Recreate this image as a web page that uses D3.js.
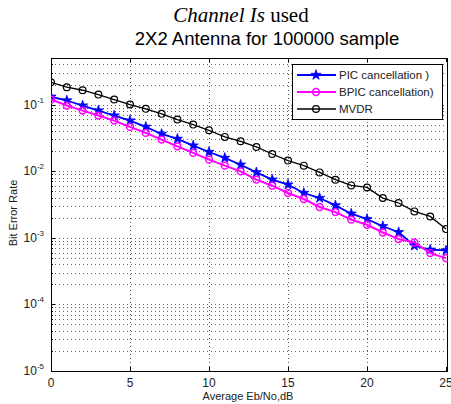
<!DOCTYPE html>
<html>
<head>
<meta charset="utf-8">
<script src="https://cdn.jsdelivr.net/npm/d3@7"></script>
<style>
  body { margin: 0; background: #fff; }
  text { font-family: Arial, "Liberation Sans", sans-serif; }
</style>
</head>
<body>
<div id="chart"></div>
<script>
// data
var snr = d3.range(0, 26);
var pic = [0.131, 0.115, 0.0966, 0.0812, 0.0684, 0.0575, 0.0462, 0.0362, 0.0305, 0.0242,
           0.0194, 0.0158, 0.0125, 0.0096, 0.00745, 0.00627, 0.0047, 0.00395, 0.00306, 0.0023,
           0.00191, 0.00149, 0.00121, 0.000759, 0.000661, 0.000645];
var bpic = [0.119, 0.0966, 0.0812, 0.0684, 0.0575, 0.0462, 0.0375, 0.0298, 0.0236, 0.0188,
            0.0149, 0.0121, 0.00993, 0.00745, 0.00605, 0.0047, 0.00382, 0.0029, 0.00243, 0.00187,
            0.00157, 0.0012, 0.000955, 0.000849, 0.000589, 0.000495];
var mvdr = [0.216, 0.182, 0.164, 0.141, 0.119, 0.100, 0.0862, 0.0725, 0.0595, 0.050,
            0.0411, 0.0327, 0.0281, 0.0231, 0.0181, 0.0144, 0.0121, 0.00959, 0.00745, 0.00611,
            0.0057, 0.00395, 0.00333, 0.00249, 0.00209, 0.00135];
var seriesNames = ["PIC cancellation )", "BPIC cancellation)", "MVDR"];
var xTicks = [0, 5, 10, 15, 20, 25];
var yExps = [-5, -4, -3, -2, -1];

var W = 451, H = 404;
var margin = {top: 58, right: 3, bottom: 33, left: 51};
var width = W - margin.left - margin.right,
    height = H - margin.top - margin.bottom;

var svg = d3.select("#chart").append("svg")
    .attr("width", W)
    .attr("height", H);

// titles
var t1 = svg.append("text")
    .attr("x", 241).attr("y", 22)
    .attr("text-anchor", "middle")
    .style("font-family", "'Liberation Serif', 'Times New Roman', serif")
    .style("font-size", "21px");
t1.append("tspan").style("font-style", "italic").text("Channel Is");
t1.append("tspan").text(" used");

svg.append("text")
    .attr("x", 267).attr("y", 45)
    .attr("text-anchor", "middle")
    .style("font-size", "18.5px")
    .text("2X2 Antenna for 100000 sample");

var g = svg.append("g")
    .attr("transform", "translate(" + margin.left + "," + margin.top + ")");

var x = d3.scaleLinear().domain([0, 25]).range([0, width - 2]);
var y = d3.scaleLog().domain([1e-5, 0.5]).range([height, 0]);

// grid
var minorY = [];
yExps.forEach(function(e) {
  for (var k = 1; k <= 9; k++) {
    var v = k * Math.pow(10, e);
    if (v <= 0.5 + 1e-9) minorY.push(v);
  }
});

g.selectAll(".hgrid")
  .data(minorY)
  .enter().append("line")
    .attr("class", "hgrid")
    .attr("x1", 0).attr("x2", width)
    .attr("y1", function(d) { return Math.round(y(d)) + 0.5; })
    .attr("y2", function(d) { return Math.round(y(d)) + 0.5; })
    .attr("stroke", "#666")
    .attr("stroke-width", 1)
    .attr("stroke-dasharray", "1,3");

g.selectAll(".vgrid")
  .data(xTicks.slice(1, 5))
  .enter().append("line")
    .attr("class", "vgrid")
    .attr("x1", function(d) { return Math.round(x(d)) + 0.5; })
    .attr("x2", function(d) { return Math.round(x(d)) + 0.5; })
    .attr("y1", 0).attr("y2", height)
    .attr("stroke", "#555")
    .attr("stroke-width", 1)
    .attr("stroke-dasharray", "1,3");

// ticks (inward)
g.selectAll(".xtick")
  .data(xTicks)
  .enter().append("line")
    .attr("x1", function(d) { return Math.round(x(d)) + 0.5; })
    .attr("x2", function(d) { return Math.round(x(d)) + 0.5; })
    .attr("y1", height).attr("y2", height - 4)
    .attr("stroke", "#000");
g.selectAll(".xtickTop")
  .data(xTicks)
  .enter().append("line")
    .attr("x1", function(d) { return Math.round(x(d)) + 0.5; })
    .attr("x2", function(d) { return Math.round(x(d)) + 0.5; })
    .attr("y1", 0).attr("y2", 4)
    .attr("stroke", "#000");
g.selectAll(".ytick")
  .data(minorY)
  .enter().append("line")
    .attr("x1", 0)
    .attr("x2", function(d) { return Math.abs(Math.log10(d) % 1) < 1e-9 ? 4 : 2; })
    .attr("y1", function(d) { return Math.round(y(d)) + 0.5; })
    .attr("y2", function(d) { return Math.round(y(d)) + 0.5; })
    .attr("stroke", "#000");

// frame
g.append("rect")
    .attr("x", 0.5).attr("y", 0.5)
    .attr("width", width - 1).attr("height", height)
    .attr("fill", "none")
    .attr("stroke", "#000");

// tick labels
g.selectAll(".xlab")
  .data(xTicks)
  .enter().append("text")
    .attr("x", function(d) { return x(d); })
    .attr("y", height + 16)
    .attr("text-anchor", "middle")
    .style("font-size", "12px")
    .style("fill", "#222")
    .text(function(d) { return d; });

var ylab = g.selectAll(".ylab")
  .data(yExps)
  .enter().append("text")
    .attr("x", -7)
    .attr("y", function(d) { return y(Math.pow(10, d)) + 4; })
    .attr("text-anchor", "end")
    .style("font-size", "12px")
    .style("fill", "#222");
ylab.append("tspan").text("10");
ylab.append("tspan")
    .attr("dy", -6)
    .style("font-size", "8px")
    .text(function(d) { return d; });

// axis titles
svg.append("text")
    .attr("x", 248).attr("y", 400)
    .attr("text-anchor", "middle")
    .style("font-size", "11px")
    .style("fill", "#222")
    .text("Average Eb/No,dB");

svg.append("text")
    .attr("transform", "translate(17,213) rotate(-90)")
    .attr("text-anchor", "middle")
    .style("font-size", "11px")
    .style("fill", "#222")
    .text("Bit Error Rate");

// curves
g.append("clipPath").attr("id", "clip")
  .append("rect").attr("x", 0).attr("y", 0).attr("width", width).attr("height", height);

var plot = g.append("g").attr("clip-path", "url(#clip)");

var line = d3.line()
    .x(function(d, i) { return x(snr[i]); })
    .y(function(d) { return y(d); });

var star = d3.symbol().type(d3.symbolStar).size(32);

function drawSeries(vals, color, lw, marker) {
  plot.append("path")
      .datum(vals)
      .attr("d", line)
      .attr("fill", "none")
      .attr("stroke", color)
      .attr("stroke-width", lw);
  if (marker == "star") {
    plot.selectAll(null)
      .data(vals)
      .enter().append("path")
        .attr("d", star)
        .attr("transform", function(d, i) { return "translate(" + x(snr[i]) + "," + y(d) + ")"; })
        .attr("fill", color)
        .attr("stroke", color)
        .attr("stroke-width", 0.8);
  } else {
    plot.selectAll(null)
      .data(vals)
      .enter().append("circle")
        .attr("cx", function(d, i) { return x(snr[i]); })
        .attr("cy", function(d) { return y(d); })
        .attr("r", 3.4)
        .attr("fill", "none")
        .attr("stroke", color)
        .attr("stroke-width", lw == 2 ? 1.5 : 1.2);
  }
}

drawSeries(pic, "#0000ff", 1.8, "star");
drawSeries(bpic, "#ff00ff", 2, "circle");
drawSeries(mvdr, "#000000", 1.3, "circle");

// legend
var lg = svg.append("g").attr("transform", "translate(292,64)");
lg.append("rect")
    .attr("x", 0.5).attr("y", 0.5)
    .attr("width", 150).attr("height", 55)
    .attr("fill", "#fff")
    .attr("stroke", "#000");

var legColors = ["#0000ff", "#ff00ff", "#000000"];
var legMarks = ["star", "circle", "circle"];
var legW = [1.8, 2, 1.3];
seriesNames.forEach(function(name, i) {
  var yy = 11 + i * 17;
  lg.append("line")
      .attr("x1", 5).attr("x2", 44)
      .attr("y1", yy).attr("y2", yy)
      .attr("stroke", legColors[i])
      .attr("stroke-width", legW[i]);
  if (legMarks[i] == "star") {
    lg.append("path")
        .attr("d", star)
        .attr("transform", "translate(24," + yy + ")")
        .attr("fill", legColors[i])
        .attr("stroke", legColors[i])
        .attr("stroke-width", 0.8);
  } else {
    lg.append("circle")
        .attr("cx", 24).attr("cy", yy).attr("r", 3.4)
        .attr("fill", "none")
        .attr("stroke", legColors[i])
        .attr("stroke-width", legW[i] == 2 ? 1.5 : 1.2);
  }
  lg.append("text")
      .attr("x", 47).attr("y", yy + 4)
      .style("font-size", "11.5px")
      .style("fill", "#222")
      .text(name);
});
</script>
</body>
</html>
